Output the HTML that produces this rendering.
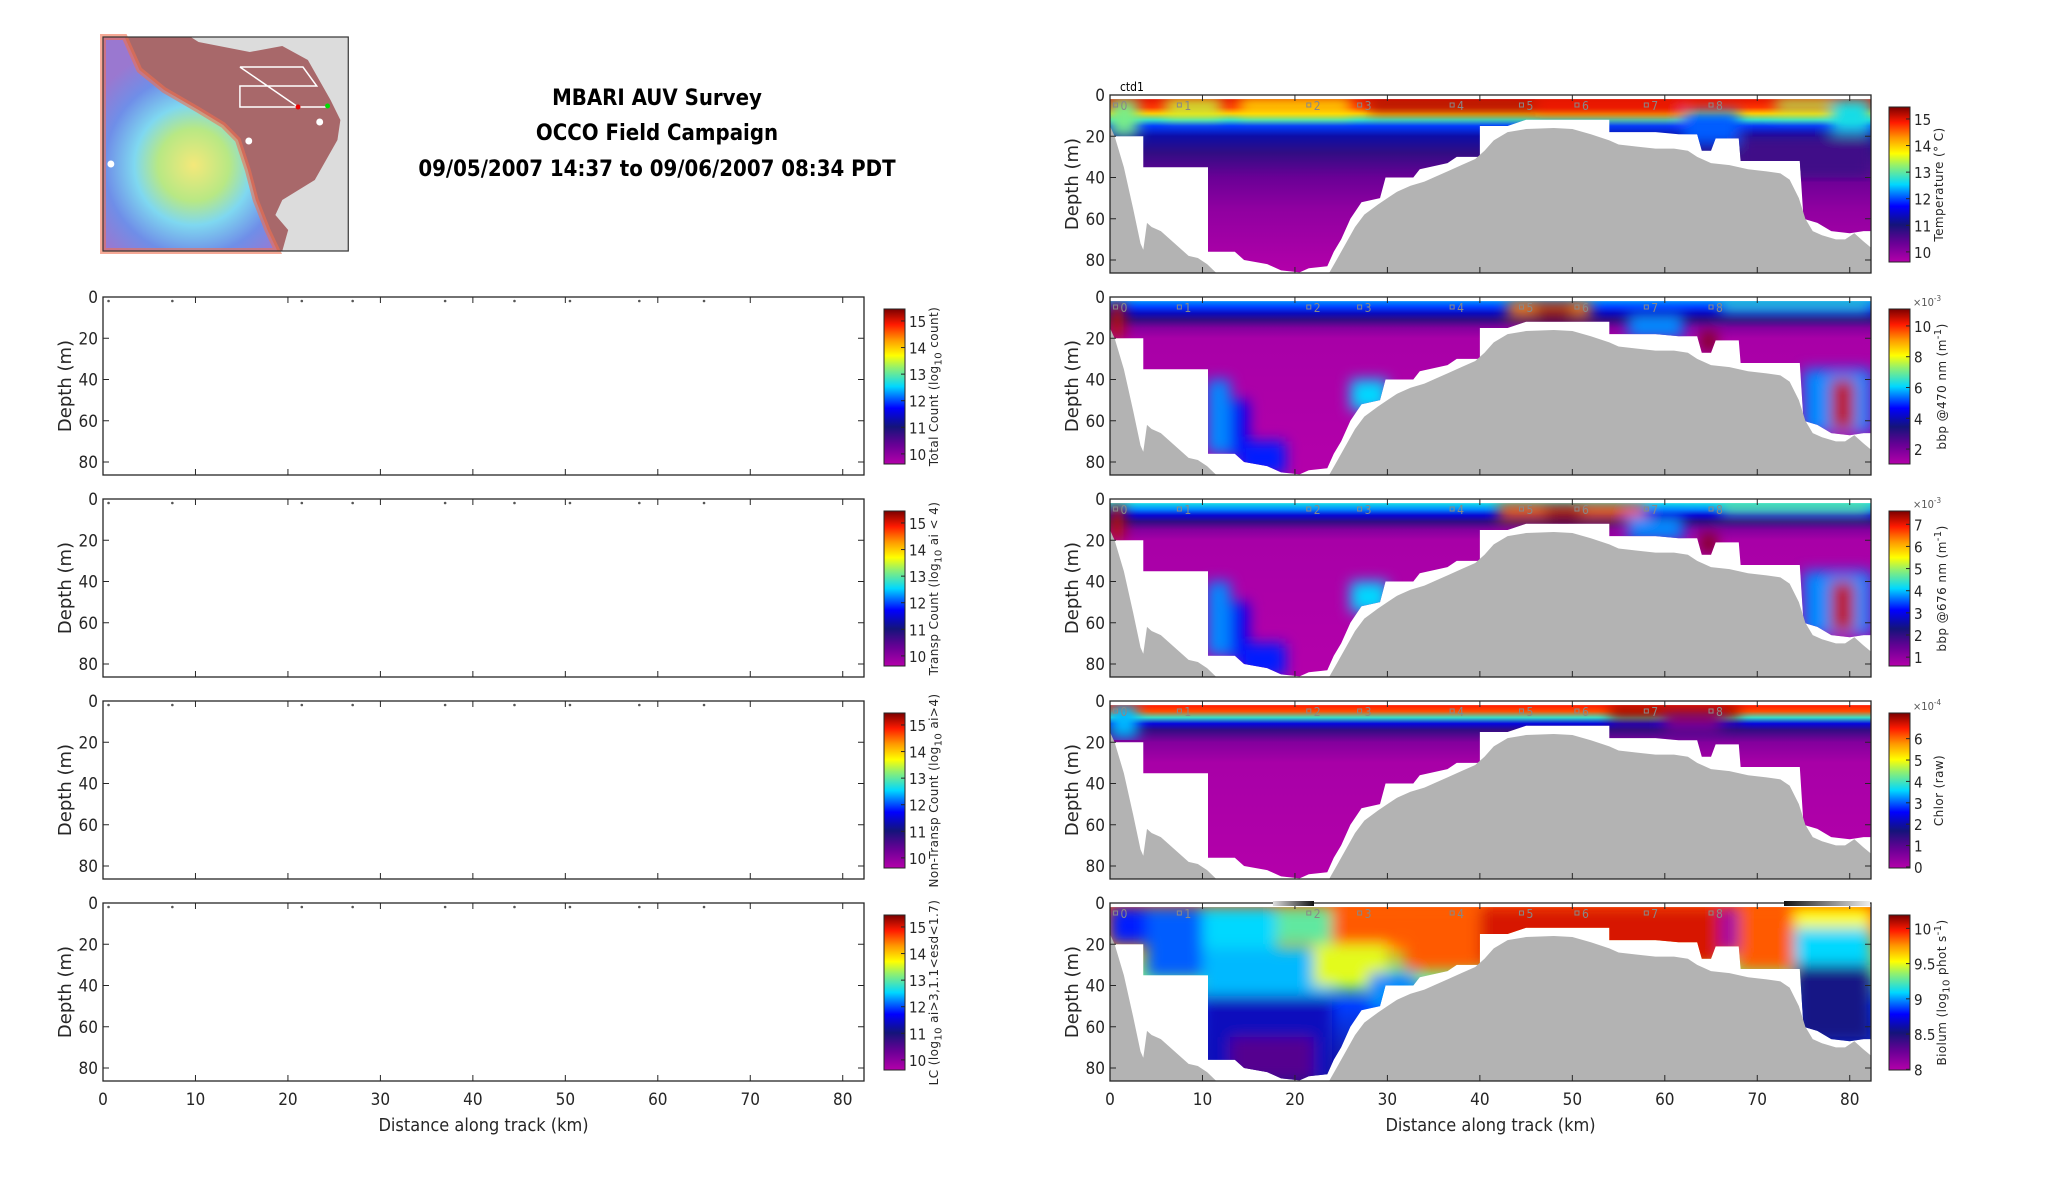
<!DOCTYPE html>
<html><head><meta charset="utf-8"><style>
html,body{margin:0;padding:0;background:#fff;}
svg{display:block;font-family:"DejaVu Sans Condensed","Liberation Sans Narrow","Liberation Sans",sans-serif;}
</style></head><body>
<svg id="fig" xmlns="http://www.w3.org/2000/svg" width="2052" height="1188" viewBox="0 0 2052 1188">
<defs>
<filter id="blur" x="-5%" y="-5%" width="110%" height="110%"><feGaussianBlur stdDeviation="7"/></filter>
<radialGradient id="mapRainbow" gradientUnits="userSpaceOnUse" cx="195" cy="165" r="120">
<stop offset="0" stop-color="#f4e87a"/><stop offset="0.3" stop-color="#b8e884"/><stop offset="0.5" stop-color="#7fd8f0"/><stop offset="0.75" stop-color="#6f8ee8"/><stop offset="1" stop-color="#9a78d0"/></radialGradient>
</defs>
<g transform="translate(103,37) scale(0.985,1) translate(-103,-37)">
<rect x="103" y="37" width="249" height="214" fill="#dcdcdc"/>
<path d="M103,37 L192,37 L200,42 L252,52 L285,46 L311,60 L334,100 L344,120 L341,140 L318,180 L285,200 L278,215 L291,230 L285,251 L103,251 Z" fill="#a8686a"/>
<path d="M103,37 L125,37 L140,70 L165,90 L200,110 L225,125 L240,140 L250,170 L258,200 L270,230 L280,251 L103,251 Z" fill="url(#mapRainbow)" stroke="#f07050" stroke-width="6" stroke-opacity="0.6"/>
<path d="M242,67 L306,67 L320,86 L242,86 L242,107 L331,107 M242,67 L301,107" fill="none" stroke="#fff" stroke-width="1.5"/>
<circle cx="301" cy="107" r="2.5" fill="#e00"/><circle cx="331" cy="106" r="2.5" fill="#0d0"/>
<circle cx="323" cy="122" r="3.5" fill="#fff"/><circle cx="251" cy="141" r="3.5" fill="#fff"/><circle cx="111" cy="164" r="3.5" fill="#fff"/>
<rect x="103" y="37" width="249" height="214" fill="none" stroke="#333" stroke-width="1.2"/>
</g>
<g font-weight="bold" font-size="22" text-anchor="middle" fill="#000">
<text x="657" y="105">MBARI AUV Survey</text>
<text x="657" y="140">OCCO Field Campaign</text>
<text x="657" y="176">09/05/2007 14:37 to 09/06/2007 08:34 PDT</text>
</g>
<g id="plots"></g>
</svg>
<script>
const kmTicks=[0,10,20,30,40,50,60,70,80];
const depthTicks=[0,20,40,60,80];
const markerKm=[0.6,7.5,21.5,27,37,44.5,50.5,58,65];
const markerLabels=['0','1','2','3','4','5','6','7','8'];
const bathyKm=[0,0.5,1.5,2.5,3.3,3.6,4,4.5,5.5,6.5,7.5,8.5,9.5,10.5,11.5,23.7,24.5,25.5,26.5,27.5,29,30,31,32.5,34,35,36.5,38,39.5,40.5,41.5,43,45,48,50,52,54,55,57,59,61,62.5,63.5,65,67,69,71,72.5,73.5,74.5,75.2,76,77,78.5,79.5,80.5,81.5,82.3];
const bathyDepth=[15,20,35,55,72,75,62,64,66,70,74,78,79,82,86.3,86.3,80,72,64,58,53,50,47,44,42,40,37,34,31,27,22,18,16.5,16,16.5,19,22,24,25,26,26,27,30,33,34,36,37,38,41,50,60,66,68,70,70,67,71,74];
const dataKm=[0,3.6,3.6,10.6,10.6,13.5,14.5,17,18.5,20.5,21.5,23.5,24.2,25,26,27.2,29.2,29.8,32.8,33.5,36.5,37.5,40,40,43,45,54,54,59,61.5,63.5,64,65,65.5,68,68.2,74.6,75,76.5,78,80,81.5,82.3];
const dataDepth=[20,20,35,35,76,76,80,82,85,86,84,83,76,70,60,52,50,40,40,36,33,30,30,15,15,12,12,18,18,19,19,27,27,21,21,32,32,60,62,66,67,66,66];

const leftLabels=['Total Count (log<sub>10</sub> count)','Transp Count (log<sub>10</sub> ai &lt; 4)','Non-Transp Count (log<sub>10</sub> ai&gt;4)','LC (log<sub>10</sub> ai&gt;3,1.1&lt;esd&lt;1.7)'];
const leftCbTicks=[10,11,12,13,14,15];
const leftCbRange=[9.62,15.45];

const tempTicks=[10,11,12,13,14,15]; const tempRange=[9.62,15.45];
const tempStopDepth=[2,6,9,12,15,20,28,40,55,86.3];
const tempStopVal=[0.92,0.88,0.75,0.55,0.4,0.28,0.2,0.12,0.06,0];
const tempPatches=[[0,3,2,20,0.6],[6,12,2,10,0.66],[14,26,2,9,0.72],[28,46,2,8,0.97],[46,62,2,9,0.92],[62,68,8,24,0.42],[72,82,2,8,0.64],[78,82.3,2,18,0.52],[68,82.3,20,40,0.18]];

const b470Ticks=[2,4,6,8,10]; const b470Range=[1.03,11.1];
const b470StopDepth=[2,5,8,11,15,20,86.3];
const b470StopVal=[0.45,0.4,0.3,0.2,0.08,0.02,0];
const b470Patches=[[0,1.5,2,20,0.95],[10.5,13,40,76,0.45],[13,15,50,78,0.35],[14,19,70,86,0.38],[26,30,40,55,0.5],[43,52,2,10,0.82],[46,50,4,11,0.97],[56,62,8,20,0.45],[64,65.5,17,26,1],[75,82.3,35,66,0.45],[78,80.5,40,64,0.95],[66,82.3,2,7,0.55]];

const b676Ticks=[1,2,3,4,5,6,7]; const b676Range=[0.6,7.6];
const b676StopDepth=[2,5,8,11,15,20,86.3];
const b676StopVal=[0.52,0.45,0.32,0.2,0.08,0.02,0];
const b676Patches=[[0,1.5,2,20,0.95],[10.5,13,40,76,0.45],[13,15,50,78,0.35],[14,19,70,86,0.38],[26,30,40,55,0.5],[42,58,2,10,0.85],[47,51,4,11,0.97],[56,62,8,20,0.45],[64,65.5,17,26,1],[75,82.3,35,66,0.45],[78,80.5,40,64,0.95],[66,82.3,2,7,0.6]];

const chlTicks=[0,1,2,3,4,5,6]; const chlRange=[-0.05,7.2];
const chlStopDepth=[2,5,8,11,14,20,30,86.3];
const chlStopVal=[0.9,0.86,0.55,0.33,0.2,0.08,0.02,0];
const chlPatches=[[0,3,2,18,0.48],[54,68,2,9,0.98],[60,66,9,16,0.1]];

const bioTicks=[8,8.5,9,9.5,10]; const bioRange=[7.99,10.19];
const bioStopDepth=[2,20,35,50,86.3];
const bioStopVal=[0.85,0.8,0.6,0.4,0.22];
const bioPatches=[[0,4,2,20,0.38],[4,10,2,36,0.42],[10,18,2,22,0.5],[18,24,2,20,0.58],[10,24,22,45,0.48],[10,24,45,86,0.3],[13,22,65,86,0.15],[24,32,2,20,0.85],[22,30,20,40,0.68],[28,33,34,52,0.45],[32,40,2,32,0.85],[40,66,2,30,0.93],[66,68,2,24,0.03],[68,74,2,32,0.85],[74,82.3,2,12,0.7],[74,82.3,12,30,0.5],[74,82.3,30,67,0.25]];

const cmapPos=[0,0.12,0.24,0.36,0.5,0.62,0.7,0.8,0.9,1];
const cmapCol=['#b400aa','#6a0096','#14147a','#0000ff','#00d8ff','#90f070','#ffff00','#ff9900','#ff1a00','#7a0000'];

const NS='http://www.w3.org/2000/svg';
const root=document.getElementById('plots');
const defs=document.querySelector('defs');
const XMAX=82.3, DMAX=86.3, PH=178, PW=761;
const tops=[95,297,499,701,903];
function mk(tag,attrs,parent){const e=document.createElementNS(NS,tag);for(const k in attrs)e.setAttribute(k,attrs[k]);(parent||root).appendChild(e);return e;}
function hex(h){return [parseInt(h.slice(1,3),16),parseInt(h.slice(3,5),16),parseInt(h.slice(5,7),16)];}
function cmap(v){v=Math.max(0,Math.min(1,v));for(let i=1;i<cmapPos.length;i++){if(v<=cmapPos[i]){const t=(v-cmapPos[i-1])/(cmapPos[i]-cmapPos[i-1]);const a=hex(cmapCol[i-1]),b=hex(cmapCol[i]);return 'rgb('+a.map((c,j)=>Math.round(c+(b[j]-c)*t)).join(',')+')';}}return cmapCol[cmapCol.length-1];}
function xS(x0,km){return x0+km/XMAX*PW;}
function yS(top,d){return top+d/DMAX*PH;}

function axes(x0,top,showX,name){
  const g=mk('g',{});
  
  
  mk('rect',{x:x0,y:top,width:PW,height:PH,fill:'none',stroke:'#262626','stroke-width':1.3},g);
  depthTicks.forEach(d=>{
    const y=yS(top,d);
    mk('line',{x1:x0,x2:x0+6,y1:y,y2:y,stroke:'#262626'},g);
    mk('line',{x1:x0+PW,x2:x0+PW-6,y1:y,y2:y,stroke:'#262626'},g);
    const t=mk('text',{x:x0-5,y:y+6,'text-anchor':'end','font-size':17,fill:'#262626'},g);t.textContent=d;
    
    
  });
  kmTicks.forEach(k=>{
    const x=xS(x0,k);
    mk('line',{x1:x,x2:x,y1:top+PH,y2:top+PH-6,stroke:'#262626'},g);
    mk('line',{x1:x,x2:x,y1:top,y2:top+6,stroke:'#262626'},g);
    if(showX){const t=mk('text',{x:x,y:top+PH+24,'text-anchor':'middle','font-size':17,fill:'#262626'},g);t.textContent=k;
      
      }
  });
  const yl=mk('text',{x:0,y:0,transform:'translate('+(x0-32)+','+(top+PH/2)+') rotate(-90)','text-anchor':'middle','font-size':18,'font-family':'DejaVu Sans, sans-serif',fill:'#262626'},g);
  yl.textContent='Depth (m)';
  
  
  if(showX){const xl=mk('text',{x:x0+PW/2,y:top+PH+50,'text-anchor':'middle','font-size':18,fill:'#262626'},g);xl.textContent='Distance along track (km)';
    
    }
  return g;
}

function colorbar(x,top,ticks,range,label,exp,name){
  const g=mk('g',{});
  
  
  const id='cb'+name;
  const lg=mk('linearGradient',{id:id,x1:0,y1:1,x2:0,y2:0},defs);
  cmapPos.forEach((p,i)=>mk('stop',{offset:p,'stop-color':cmapCol[i]},lg));
  const y0=top+12,h=155;
  mk('rect',{x:x,y:y0,width:21,height:h,fill:'url(#'+id+')',stroke:'#262626','stroke-width':1},g);
  ticks.forEach(v=>{
    const y=y0+h-(v-range[0])/(range[1]-range[0])*h;
    mk('line',{x1:x+21,x2:x+17,y1:y,y2:y,stroke:'#262626'},g);
    const t=mk('text',{x:x+25,y:y+6,'font-size':15,fill:'#262626'},g);t.textContent=v;
    
    
  });
  if(exp){const t=mk('text',{x:x+24,y:top+9,'font-size':11,fill:'#555'},g);t.innerHTML=exp;
    
    }
  const fo=mk('foreignObject',{x:0,y:0,width:210,height:24,transform:'translate('+(x+40)+','+(y0+h/2+105)+') rotate(-90)'},g);
  const div=document.createElement('div');
  div.style.cssText='width:210px;text-align:center;font:12px "DejaVu Sans",sans-serif;letter-spacing:0.4px;color:#262626;white-space:nowrap;line-height:20px;';
  div.innerHTML=label;
  
  
  fo.appendChild(div);
}

function section(top,stopD,stopV,patches,name){
  const x0=1110;
  const g=mk('g',{});
  
  
  const gid='grad'+name;
  const lg=mk('linearGradient',{id:gid,gradientUnits:'userSpaceOnUse',x1:0,y1:yS(top,0),x2:0,y2:yS(top,DMAX)},defs);
  stopD.forEach((d,i)=>mk('stop',{offset:d/DMAX,'stop-color':cmap(stopV[i])},lg));
  let pts=[[xS(x0,0),yS(top,2)],[xS(x0,XMAX),yS(top,2)]];
  for(let i=dataKm.length-1;i>=0;i--)pts.push([xS(x0,dataKm[i]),yS(top,dataDepth[i])]);
  const cid='clip'+name;
  const cp=mk('clipPath',{id:cid},defs);
  mk('polygon',{points:pts.map(p=>p.join(',')).join(' ')},cp);
  const dg=mk('g',{'clip-path':'url(#'+cid+')'},g);
  
  
  mk('rect',{x:x0,y:top,width:PW,height:PH,fill:'url(#'+gid+')'},dg);
  const pg=mk('g',{filter:'url(#blur)'},dg);
  patches.forEach(p=>{
    const r=mk('rect',{x:xS(x0,p[0]),y:yS(top,p[2]),width:xS(x0,p[1])-xS(x0,p[0]),height:yS(top,p[3])-yS(top,p[2]),fill:cmap(p[4])},pg);
    
    
  });
  let bp=bathyKm.map((k,i)=>[xS(x0,k),yS(top,bathyDepth[i])]);
  bp.push([xS(x0,XMAX),top+PH]);bp.push([x0,top+PH]);
  const b=mk('polygon',{points:bp.map(p=>p.join(',')).join(' '),fill:'#b3b3b3'},g);
  
  
  markerKm.forEach((k,i)=>{
    const x=xS(x0,k);
    mk('rect',{x:x-2,y:top+8,width:4,height:4,fill:'none',stroke:'#888','stroke-width':1},g);
    const t=mk('text',{x:x+5,y:top+15,'font-size':12,fill:'#888'},g);t.textContent=markerLabels[i];
    
    
  });
}

for(let i=0;i<4;i++){
  const top=tops[i+1];
  axes(103,top,i===3,'left-panel-'+(i+1));
  markerKm.forEach(k=>mk('circle',{cx:xS(103,k),cy:top+4,r:1.3,fill:'#555'}));
  colorbar(884,top,leftCbTicks,leftCbRange,leftLabels[i],null,'left'+(i+1));
}
const rightDefs=[
 [tempStopDepth,tempStopVal,tempPatches,tempTicks,tempRange,'Temperature (° C)',null,'temperature'],
 [b470StopDepth,b470StopVal,b470Patches,b470Ticks,b470Range,'bbp @470 nm (m<sup>-1</sup>)','×10<tspan dy="-5" font-size="8">-3</tspan>','bbp470'],
 [b676StopDepth,b676StopVal,b676Patches,b676Ticks,b676Range,'bbp @676 nm (m<sup>-1</sup>)','×10<tspan dy="-5" font-size="8">-3</tspan>','bbp676'],
 [chlStopDepth,chlStopVal,chlPatches,chlTicks,chlRange,'Chlor (raw)','×10<tspan dy="-5" font-size="8">-4</tspan>','chlor'],
 [bioStopDepth,bioStopVal,bioPatches,bioTicks,bioRange,'Biolum (log<sub>10</sub> phot s<sup>-1</sup>)',null,'biolum']
];
rightDefs.forEach((d,i)=>{
  const top=tops[i];
  section(top,d[0],d[1],d[2],d[7]);
  axes(1110,top,i===4,'right-panel-'+d[7]);
  colorbar(1889,top,d[3],d[4],d[5],d[6],d[7]);
});
const ctd=mk('text',{x:1120,y:91,'font-size':12,fill:'#000'});ctd.textContent='ctd1';


[[1273,1314,true],[1784,1870,false]].forEach(b=>{
  const lg=mk('linearGradient',{id:'gb'+b[0],x1:0,y1:0,x2:1,y2:0},defs);
  mk('stop',{offset:0,'stop-color':b[2]?'#ddd':'#111'},lg);mk('stop',{offset:1,'stop-color':b[2]?'#111':'#eee'},lg);
  const r=mk('rect',{x:b[0],y:901,width:b[1]-b[0],height:5,fill:'url(#gb'+b[0]+')'});
  
  
});
</script>
</body></html>
